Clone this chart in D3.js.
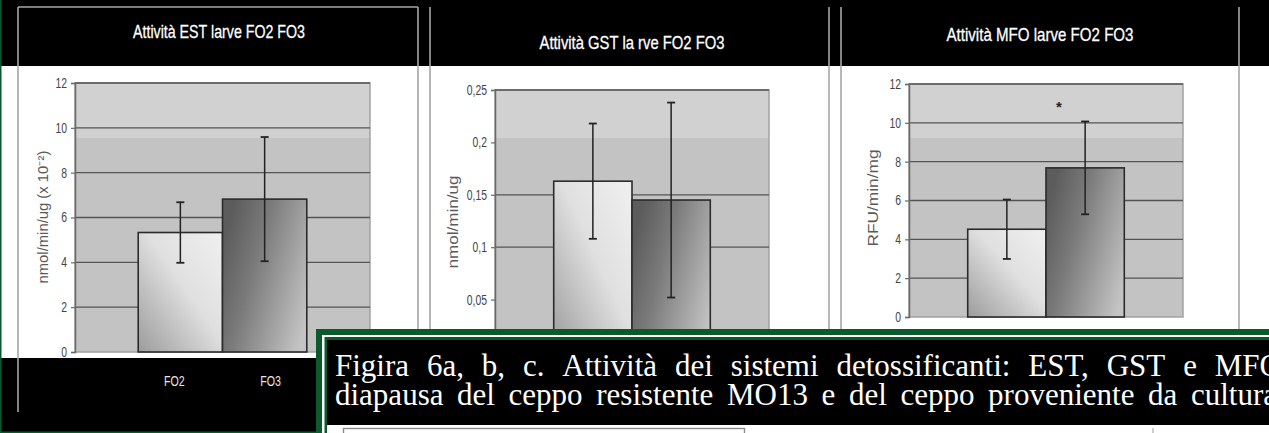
<!DOCTYPE html>
<html><head><meta charset="utf-8">
<script src="https://cdn.jsdelivr.net/npm/d3@7"></script>
<style>html,body{margin:0;padding:0;background:#000;overflow:hidden}</style>
</head><body><svg id="c" width="1269" height="433"></svg>
<script>
// ---------------- data ----------------
const categories = ["FO2", "FO3"];
const estMeans = [5.33, 6.82];
const estErrors = [1.35, 2.77];
const gstMeans = [0.163, 0.145];
const gstErrors = [0.055, 0.093];
const mfoMeans = [4.52, 7.68];
const mfoErrors = [1.53, 2.39];
const estTicks = [0, 2, 4, 6, 8, 10, 12];
const gstTicks = [0.05, 0.1, 0.15, 0.2, 0.25];
const mfoTicks = [0, 2, 4, 6, 8, 10, 12];
const estGrid = [2, 4, 6, 8, 10, 12];
const gstGrid = [0.1, 0.15, 0.25];
const mfoGrid = [2, 4, 6, 8, 10, 12];
const titles = ["Attività EST larve FO2 FO3", "Attività GST la rve FO2 FO3", "Attività MFO larve FO2 FO3"];
const yTitles = ["nmol/min/ug (x 10⁻²)", "nmol/min/ug", "RFU/min/mg"];
const captionLines = [
  "Figira 6a, b, c. Attività dei sistemi detossificanti: EST, GST e MFO",
  "diapausa del ceppo resistente MO13 e del ceppo proveniente da cultura"
];

// ---------------- layout ----------------
const svg = d3.select("#c");
const W = 1269, H = 433;
const NARROW = '"Liberation Sans Narrow", "Arial Narrow", "Liberation Sans", Arial, sans-serif';
const GREEN = "#0b5a2e";

function narrowAvailable() {
  const t = svg.append("text").style("font-family", '"Liberation Sans Narrow", "Liberation Sans"').style("font-size", "20px").text("FO2 Attività 0123456789");
  const w1 = t.node().getComputedTextLength();
  t.style("font-family", '"Liberation Sans"');
  const w2 = t.node().getComputedTextLength();
  t.remove();
  return w1 < w2 * 0.95;
}
const hasNarrow = narrowAvailable();
function squeeze(sel, f) {
  if (hasNarrow) return;
  sel.each(function () {
    const len = this.getComputedTextLength();
    d3.select(this).attr("textLength", len * (f || 0.8)).attr("lengthAdjust", "spacingAndGlyphs");
  });
}

const defs = svg.append("defs");
const g1 = defs.append("linearGradient").attr("id", "gLight").attr("x1", 1).attr("y1", 0).attr("x2", 0).attr("y2", 1);
g1.append("stop").attr("offset", 0).attr("stop-color", "#f0f0f0");
g1.append("stop").attr("offset", 0.45).attr("stop-color", "#e0e0e0");
g1.append("stop").attr("offset", 1).attr("stop-color", "#9c9c9c");
const g2 = defs.append("linearGradient").attr("id", "gDark").attr("x1", 0).attr("y1", 0.3).attr("x2", 1).attr("y2", 0.8);
g2.append("stop").attr("offset", 0).attr("stop-color", "#5c5c5c");
g2.append("stop").attr("offset", 0.35).attr("stop-color", "#7a7a7a");
g2.append("stop").attr("offset", 1).attr("stop-color", "#c4c4c4");

// background
svg.append("rect").attr("width", W).attr("height", H).attr("fill", "#000");
svg.append("rect").attr("x", 1).attr("y", 66).attr("width", W).attr("height", 292).attr("fill", "#fff");
svg.append("line").attr("x1", 0.75).attr("x2", 0.75).attr("y1", 0).attr("y2", H).attr("stroke", GREEN).attr("stroke-width", 1.5);
svg.append("line").attr("x1", 0).attr("x2", 320).attr("y1", 432.3).attr("y2", 432.3).attr("stroke", GREEN).attr("stroke-width", 1.5);

// panel frames
const frameXs = [[18, 418], [430, 829], [841, 1239]];
frameXs.forEach(([a, b], i) => {
  [a, b].forEach(x => svg.append("line").attr("x1", x).attr("x2", x).attr("y1", 7).attr("y2", 412).attr("stroke", "#a6a6a6").attr("stroke-width", 1.6));
  if (i === 0) svg.append("line").attr("x1", a).attr("x2", b).attr("y1", 7).attr("y2", 7).attr("stroke", "#a6a6a6").attr("stroke-width", 1.6);
});

const panels = [
  { means: estMeans, errs: estErrors, ticks: estTicks, grid: estGrid, domain: [0, 12], fmt: d3.format("d"),
    plot: { x0: 75, x1: 370, y0: 83, y1: 352 }, title: titles[0], tPos: [219, 38], tLen: 172,
    yTitle: yTitles[0], yPos: [43, 217], yLen: 133, cats: true },
  { means: gstMeans, errs: gstErrors, ticks: gstTicks, grid: gstGrid, domain: [0, 0.25], fmt: d => String(d).replace(".", ","),
    plot: { x0: 495, x1: 769, y0: 90, y1: 352 }, title: titles[1], tPos: [632, 49], tLen: 185,
    yTitle: yTitles[1], yPos: [453, 222], yLen: 93, cats: false },
  { means: mfoMeans, errs: mfoErrors, ticks: mfoTicks, grid: mfoGrid, domain: [0, 12], fmt: d3.format("d"),
    plot: { x0: 909, x1: 1183, y0: 84, y1: 317 }, title: titles[2], tPos: [1040, 41], tLen: 187,
    yTitle: yTitles[2], yPos: [873, 198], yLen: 97, cats: false, star: true }
];

panels.forEach((p, pi) => {
  const g = svg.append("g");
  const P = p.plot;
  const x = d3.scaleBand().domain(categories).range([P.x0, P.x1]).paddingInner(0).paddingOuter(0.75);
  const y = d3.scaleLinear().domain(p.domain).range([P.y1, P.y0]);

  // title
  g.append("text").attr("x", p.tPos[0]).attr("y", p.tPos[1]).attr("text-anchor", "middle")
    .attr("fill", "#fff").attr("stroke", "#fff").attr("stroke-width", 0.3)
    .style("font-family", NARROW).style("font-size", "19px")
    .attr("textLength", p.tLen).attr("lengthAdjust", "spacingAndGlyphs").text(p.title);

  // plot background
  g.append("rect").attr("x", P.x0).attr("y", P.y0).attr("width", P.x1 - P.x0).attr("height", P.y1 - P.y0).attr("fill", "#c3c3c3");
  g.append("rect").attr("x", P.x0).attr("y", P.y0).attr("width", P.x1 - P.x0).attr("height", 138 - P.y0).attr("fill", "#d1d1d1");
  g.append("rect").attr("x", P.x0).attr("y", P.y0).attr("width", P.x1 - P.x0).attr("height", P.y1 - P.y0)
    .attr("fill", "none").attr("stroke", "#a2a2a2").attr("stroke-width", 1.5);

  // grid
  g.selectAll(".grid").data(p.grid).join("line")
    .attr("x1", P.x0).attr("x2", P.x1).attr("y1", d => y(d)).attr("y2", d => y(d))
    .attr("stroke", "#555").attr("stroke-width", 1.3);

  // axis
  const ax = g.append("g").attr("transform", `translate(${P.x0},0)`)
    .call(d3.axisLeft(y).tickValues(p.ticks).tickSize(4).tickPadding(4).tickFormat(p.fmt));
  ax.select(".domain").attr("stroke", "#6a6a6a").attr("stroke-width", 1.5);
  ax.selectAll(".tick line").attr("stroke", "#6a6a6a").attr("stroke-width", 1.2);
  ax.selectAll(".tick text").attr("fill", "#444").style("font-family", NARROW).style("font-size", "14px");
  squeeze(ax.selectAll(".tick text"), 0.74);

  // bars
  g.selectAll(".bar").data(categories).join("rect")
    .attr("x", d => x(d)).attr("width", x.bandwidth())
    .attr("y", (d, i) => y(p.means[i])).attr("height", (d, i) => y(0) - y(p.means[i]))
    .attr("fill", (d, i) => i === 0 ? "url(#gLight)" : "url(#gDark)")
    .attr("stroke", "#2b2b2b").attr("stroke-width", 1.6);

  // error bars
  categories.forEach((c, i) => {
    const cx = x(c) + x.bandwidth() / 2;
    const hi = y(p.means[i] + p.errs[i]), lo = y(p.means[i] - p.errs[i]);
    g.append("line").attr("x1", cx).attr("x2", cx).attr("y1", hi).attr("y2", lo).attr("stroke", "#222").attr("stroke-width", 1.5);
    [hi, lo].forEach(yy => g.append("line").attr("x1", cx - 4).attr("x2", cx + 4).attr("y1", yy).attr("y2", yy).attr("stroke", "#222").attr("stroke-width", 1.8));
  });

  // y title
  g.append("text").attr("transform", `translate(${p.yPos[0]},${p.yPos[1]}) rotate(-90)`)
    .attr("text-anchor", "middle").attr("dy", "0.35em").attr("fill", "#5a5a5a")
    .style("font-family", NARROW).style("font-size", "14px")
    .attr("textLength", p.yLen).attr("lengthAdjust", "spacingAndGlyphs").text(p.yTitle);

  // categories
  if (p.cats) {
    const ct = g.selectAll(".cat").data(categories).join("text")
      .attr("x", (d, i) => x(d) + x.bandwidth() / 2 + (i === 0 ? -6 : 6)).attr("y", 386)
      .attr("text-anchor", "middle").attr("fill", "#e4e4e4")
      .style("font-family", NARROW).style("font-size", "14px").text(d => d);
    squeeze(ct, 0.76);
  }

  if (p.star) {
    g.append("text").attr("x", x("FO3") + 13).attr("y", y(10.55)).attr("text-anchor", "middle")
      .attr("fill", "#222").style("font-family", NARROW).style("font-size", "15px").style("font-weight", "bold").text("*");
  }
});

// ---------------- caption overlay ----------------
const ov = svg.append("g");
ov.append("rect").attr("x", 316).attr("y", 329).attr("width", W).attr("height", 200).attr("fill", GREEN);
ov.append("rect").attr("x", 322).attr("y", 335).attr("width", W).attr("height", 200).attr("fill", "#fff");
ov.append("rect").attr("x", 324.5).attr("y", 337).attr("width", W).attr("height", 200).attr("fill", GREEN);
ov.append("rect").attr("x", 327).attr("y", 340).attr("width", W).attr("height", 200).attr("fill", "#fff");
ov.append("rect").attr("x", 327).attr("y", 340).attr("width", W).attr("height", 85).attr("fill", "#000");
ov.append("rect").attr("x", 343.5).attr("y", 428.5).attr("width", 401).attr("height", 20).attr("fill", "none").attr("stroke", "#8a8a8a").attr("stroke-width", 1.4);
ov.append("line").attr("x1", 1153).attr("x2", 1153).attr("y1", 428).attr("y2", 433).attr("stroke", "#999");

// justified caption lines
function justify(line, x0, x1, yb, size, stretch) {
  const words = line.split(" ");
  const spans = words.map(w => ov.append("text").attr("y", yb).attr("fill", "#fff")
    .style("font-family", '"Liberation Serif", "Times New Roman", serif').style("font-size", size + "px").text(w));
  const widths = spans.map(s => {
    const w = s.node().getComputedTextLength() * stretch;
    s.attr("textLength", w).attr("lengthAdjust", "spacingAndGlyphs");
    return w;
  });
  const gap = (x1 - x0 - d3.sum(widths)) / (words.length - 1);
  let xx = x0;
  spans.forEach((s, i) => { s.attr("x", xx); xx += widths[i] + gap; });
}
justify(captionLines[0], 335, 1282, 376, 31, 1.0);
justify(captionLines[1], 335, 1277, 405, 31, 1.0);
</script>
</body></html>
